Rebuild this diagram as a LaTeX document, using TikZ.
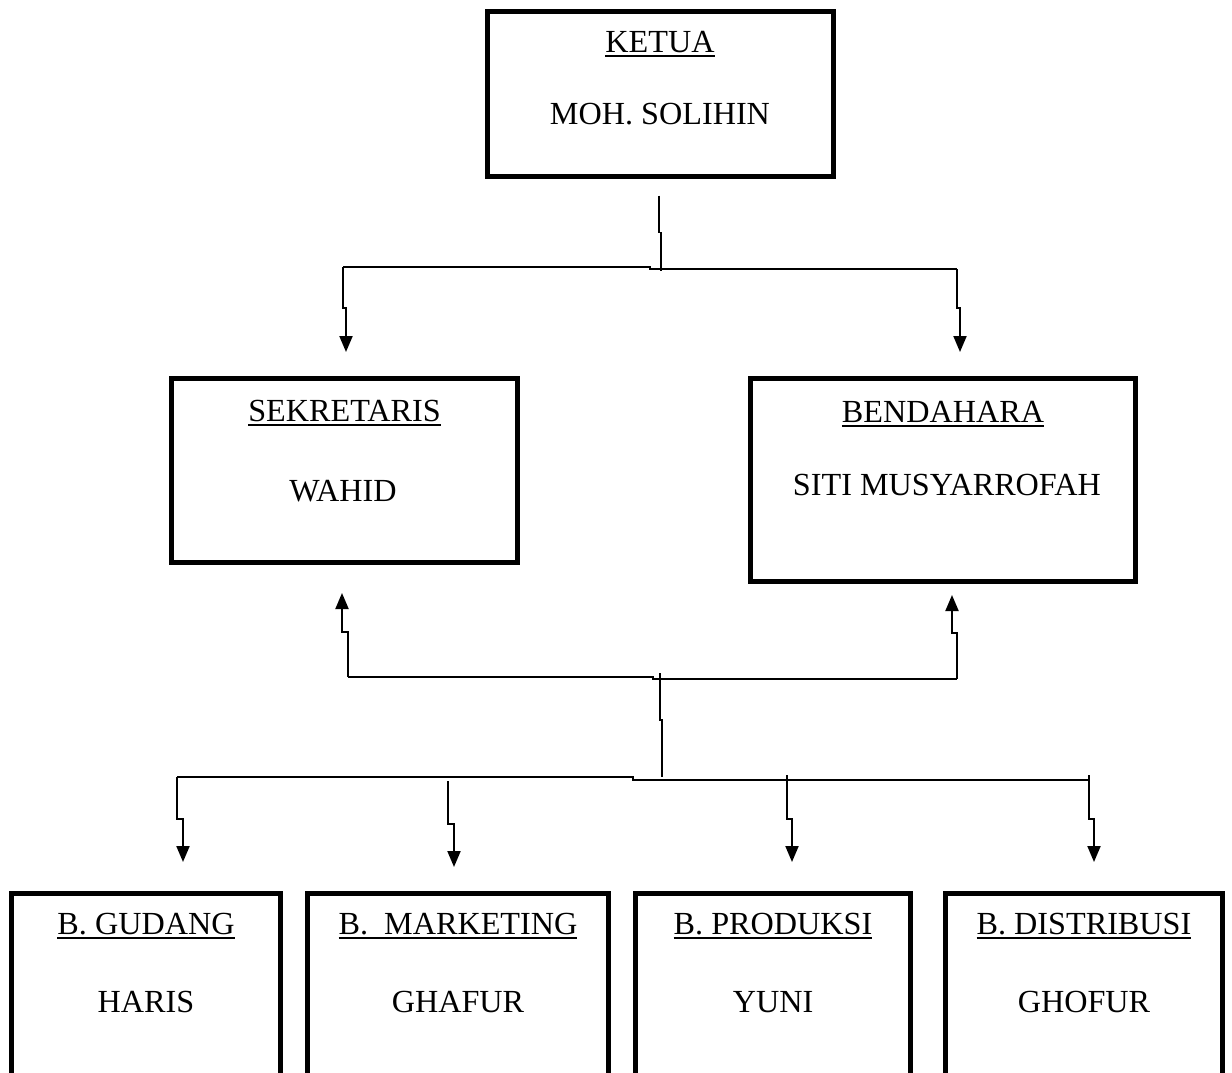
\documentclass[tikz,border=0pt]{standalone}
\usepackage{fontspec}
\setmainfont{Liberation Serif}
\usetikzlibrary{arrows.meta}
\newcommand{\ulbox}[1]{\setbox0\hbox{#1}\rlap{\rule[-2.6pt]{\wd0}{1pt}}\box0}
\tikzset{
  unit/.style={draw, line width=2.5pt, inner sep=0pt},
  txt/.style={anchor=base, inner sep=0pt, font=\fontsize{16.1}{19}\selectfont},
  link/.style={line width=1pt},
  arrow/.style={line width=1pt, -{Triangle[length=8pt,width=6.5pt]}},
}
\begin{document}
\begin{tikzpicture}[x=0.5pt, y=-0.5pt]
    \useasboundingbox (0,0) rectangle (1232,1072);
    \clip (0,0) rectangle (1232,1072);
    % boxes
    \node [unit, minimum width=173pt, minimum height=82.5pt] at (660,93.5) (ketua) {};
    \node [unit, minimum width=173pt, minimum height=92pt] at (344.5,470) (sek) {};
    \node [unit, minimum width=192.5pt, minimum height=101.5pt] at (942.5,479.5) (bend) {};
    \node [unit, minimum width=134.5pt, minimum height=128.25pt] at (146,1021.75) (gudang) {};
    \node [unit, minimum width=150.5pt, minimum height=128.25pt] at (458,1021.75) (mark) {};
    \node [unit, minimum width=137.5pt, minimum height=128.25pt] at (773,1021.75) (prod) {};
    \node [unit, minimum width=138.5pt, minimum height=128.25pt] at (1084,1021.75) (dist) {};
    % texts
    \node [txt] at (660,52) (ketuaT) {\ulbox{KETUA}};
    \node [txt] at (660,124) (ketuaN) {MOH. SOLIHIN};
    \node [txt] at (344.5,421) (sekT) {\ulbox{SEKRETARIS}};
    \node [txt] at (343,501) (sekN) {WAHID};
    \node [txt] at (943,422) (bendT) {\ulbox{BENDAHARA}};
    \node [txt] at (947,495) (bendN) {SITI MUSYARROFAH};
    \node [txt] at (146,934) (gudangT) {\ulbox{B. GUDANG}};
    \node [txt] at (146,1012) (gudangN) {HARIS};
    \node [txt] at (458,934) (markT) {\ulbox{B.\ \ MARKETING}};
    \node [txt] at (458,1012) (markN) {GHAFUR};
    \node [txt] at (773,934) (prodT) {\ulbox{B. PRODUKSI}};
    \node [txt] at (773,1012) (prodN) {YUNI};
    \node [txt] at (1084,934) (distT) {\ulbox{B. DISTRIBUSI}};
    \node [txt] at (1084,1012) (distN) {GHOFUR};
    % junctions
    \coordinate (topL) at (343,267);
    \coordinate (topR) at (957,269);
    \coordinate (midL) at (348,677);
    \coordinate (midR) at (957,679);
    \coordinate (lowL) at (177,777);
    \coordinate (lowR) at (1089,780);
    % ketua down to sekretaris and bendahara
    \draw[link, line width=0.8pt] (ketua.south) ++(-1,17) -- ++(0,37) -- ++(2,0) -- ++(0,38);
    \draw[link] (topL) -- (650,267) -- (650,269) -- (topR);
    \draw[arrow] (topL) -- ++(0,41) -- ++(3,0) -- ++(0,44);
    \draw[arrow] (topR) -- ++(0,39) -- ++(3,0) -- ++(0,44);
    % bidang up to sekretaris and bendahara
    \draw[link] (midL) -- (653,677) -- (653,679) -- (midR);
    \draw[arrow] (midL) -- ++(0,-45) -- ++(-6,0) -- ++(0,-39);
    \draw[arrow] (midR) -- ++(0,-46) -- ++(-5,0) -- ++(0,-38);
    \draw[link, line width=0.8pt] (660,673) -- (660,720) -- (662,720) -- (662,777);
    % down to the four bidang
    \draw[link] (lowL) -- (633,777) -- (633,780) -- (lowR);
    \draw[arrow] (lowL) -- ++(0,42) -- ++(6,0) -- ++(0,43);
    \draw[arrow] (448,781) -- ++(0,43) -- ++(6,0) -- ++(0,43);
    \draw[arrow] (787,775) -- ++(0,44) -- ++(5,0) -- ++(0,43);
    \draw[arrow] (1089,775) -- ++(0,44) -- ++(5,0) -- ++(0,43);
\end{tikzpicture}
\end{document}
